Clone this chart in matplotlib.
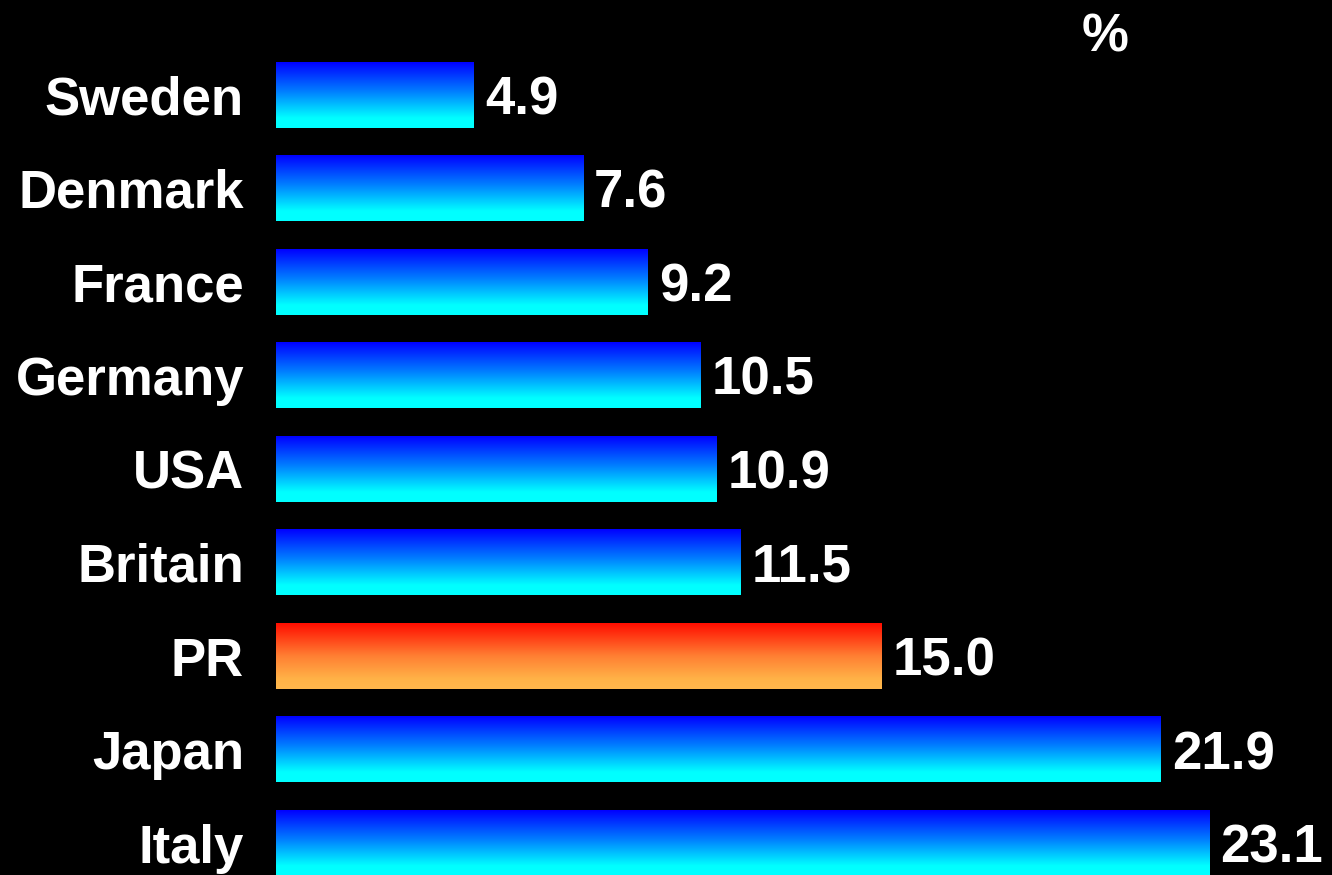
import numpy as np
import matplotlib.pyplot as plt
from matplotlib.colors import LinearSegmentedColormap

countries = ['Sweden', 'Denmark', 'France', 'Germany', 'USA', 'Britain', 'PR', 'Japan', 'Italy']
values = [4.9, 7.6, 9.2, 10.5, 10.9, 11.5, 15.0, 21.9, 23.1]
highlight = 'PR'

plt.rcParams['font.family'] = ['Liberation Sans', 'DejaVu Sans']

# gradients run top -> bottom
blue_cmap = LinearSegmentedColormap.from_list(
    'blue', [(0.0, (0, 0, 1)), (0.45, (0, 0.5, 1)), (0.85, (0, 1, 1)), (1.0, (0, 1, 1))])
red_cmap = LinearSegmentedColormap.from_list(
    'red', [(0.0, (1, 0.05, 0)), (0.5, (1, 0.5, 0.2)), (0.85, (1, 0.7, 0.28)), (1.0, (1, 0.72, 0.3))])

fig = plt.figure(figsize=(13.32, 8.75), dpi=100, facecolor='black')
ax = fig.add_axes([276 / 1332, 0, 1 - 276 / 1332, 1])
ax.set_facecolor('black')

bar_h = 0.7
grad = np.linspace(0, 1, 256).reshape(-1, 1)
for i, (name, v) in enumerate(zip(countries, values)):
    cmap = red_cmap if name == highlight else blue_cmap
    ax.imshow(grad, cmap=cmap, aspect='auto', interpolation='bilinear',
              extent=(0, v, i + bar_h / 2, i - bar_h / 2), zorder=2)
    ax.annotate(f'{v:.1f}', xy=(v, i), xytext=(8, 0), textcoords='offset points',
                ha='left', va='center_baseline', color='white', fontsize=38, fontweight='bold')

ax.set_xlim(0, (1332 - 276) / 40.4)
ax.set_ylim(8 + 32 / 93.5, -95 / 93.5)
ax.set_yticks(range(len(countries)))
ax.set_yticklabels(countries, fontsize=38, fontweight='bold', color='white',
                   va='center_baseline')
ax.tick_params(axis='y', length=0, pad=23)
ax.set_xticks([])
for s in ax.spines.values():
    s.set_visible(False)

fig.text(1105 / 1332, 1 - 38 / 875, '%', ha='center', va='center',
         color='white', fontsize=38, fontweight='bold')

fig.savefig('out.png', dpi=100, facecolor='black')
